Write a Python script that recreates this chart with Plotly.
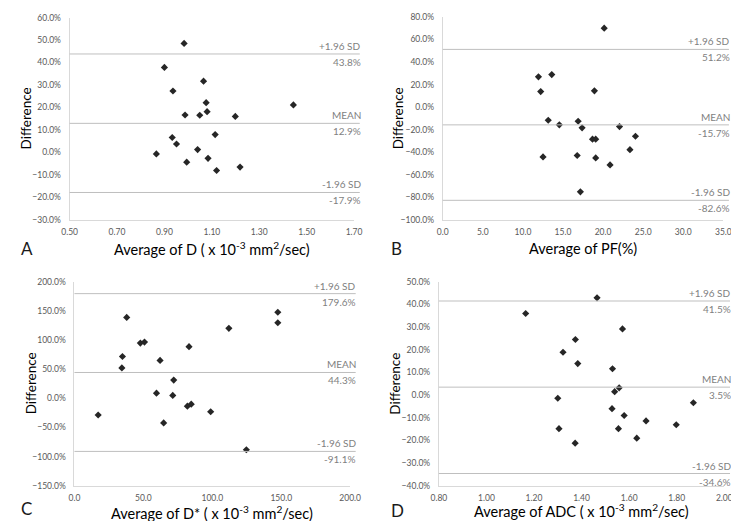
import plotly.graph_objects as go

# ---------------- data ----------------
a_x = [0.983, 0.900, 1.065, 0.936, 1.076, 1.444, 1.080, 0.987, 1.049, 1.199,
       1.114, 0.933, 0.951, 1.040, 0.866, 1.084, 0.994, 1.219, 1.120]
a_y = [48.5, 37.8, 31.7, 27.3, 22.1, 21.1, 18.1, 16.6, 16.5, 16.0,
       7.9, 6.6, 3.7, 1.2, -0.7, -2.7, -4.4, -6.6, -8.1]
a_lines = [43.8, 12.9, -17.9]

b_x = [20.14, 13.60, 11.94, 12.22, 18.92, 13.16, 16.89, 14.54, 17.38, 22.05,
       18.68, 19.08, 24.04, 23.35, 12.51, 16.77, 19.08, 20.87, 17.17]
b_y = [70.0, 28.9, 26.9, 13.8, 14.5, -11.6, -12.5, -15.7, -18.3, -17.2,
       -28.4, -28.4, -25.8, -37.7, -44.1, -42.9, -45.0, -51.2, -75.1]
b_lines = [51.2, -15.7, -82.6]

c_x = [147.5, 147.5, 37.9, 112.0, 47.8, 50.8, 83.1, 34.8, 62.1, 34.4,
       72.0, 59.5, 71.3, 84.7, 81.9, 17.2, 98.8, 64.7, 124.7]
c_y = [147.6, 129.6, 138.8, 120.1, 94.8, 96.5, 88.6, 71.8, 65.0, 52.1,
       31.3, 8.9, 5.0, -10.1, -13.4, -28.6, -23.0, -42.2, -88.2]
c_lines = [179.6, 44.3, -91.1]

d_x = [1.465, 1.165, 1.572, 1.374, 1.322, 1.384, 1.530, 1.558, 1.539, 1.300,
       1.870, 1.528, 1.579, 1.671, 1.798, 1.305, 1.555, 1.632, 1.373]
d_y = [42.9, 36.0, 29.2, 24.5, 18.9, 13.9, 11.6, 3.2, 1.5, -1.4,
       -3.4, -6.0, -9.0, -11.4, -13.1, -14.8, -14.8, -19.0, -21.2]
d_lines = [41.5, 3.5, -34.6]

line_names = ["+1.96 SD", "MEAN", "-1.96 SD"]
panel_letters = ["A", "B", "C", "D"]
x_titles = [
    "Average of D ( x 10<sup>-3</sup> mm<sup>2</sup>/sec)",
    "Average of PF(%)",
    "Average of D* ( x 10<sup>-3</sup> mm<sup>2</sup>/sec)",
    "Average of ADC ( x 10<sup>-3</sup> mm<sup>2</sup>/sec)",
]

W, H = 739, 521
FONT = "Lato, 'Open Sans', sans-serif"

panels = [
    dict(x=a_x, y=a_y, lines=a_lines, xr=[0.5, 1.7], xd=0.2, xf=".2f",
         yr=[-30, 60], yd=10, px=(55, 347), py=(4.7, 210.7),
         letter=(3, 240), title_y=240),
    dict(x=b_x, y=b_y, lines=b_lines, xr=[0, 35], xd=5, xf=".1f",
         yr=[-100, 80], yd=20, px=(438, 726), py=(4.0, 211.0),
         letter=(383, 240), title_y=240),
    dict(x=c_x, y=c_y, lines=c_lines, xr=[0, 200], xd=50, xf=".1f",
         yr=[-150, 200], yd=50, px=(60, 343), py=(274.0, 482.0),
         letter=(3, 505), title_y=509),
    dict(x=d_x, y=d_y, lines=d_lines, xr=[0.8, 2.0], xd=0.2, xf=".2f",
         yr=[-40, 50], yd=10, px=(434, 727), py=(274.0, 482.0),
         letter=(383, 507), title_y=507),
]

fig = go.Figure()
shapes = []
annotations = []

for i, p in enumerate(panels):
    n = "" if i == 0 else str(i + 1)
    xa, ya = "x" + n, "y" + n
    fig.add_trace(go.Scatter(
        x=p["x"], y=p["y"], mode="markers", xaxis=xa, yaxis=ya,
        marker=dict(symbol="diamond", size=5.5, color="#262626"),
        showlegend=False, hoverinfo="x+y"))
    x0 = p["px"][0] / W
    x1 = p["px"][1] / W
    y0 = 1 - p["py"][1] / H
    y1 = 1 - p["py"][0] / H
    axis_common = dict(showgrid=False, zeroline=False, showline=True,
                       linecolor="#d9d9d9", linewidth=1, ticks="",
                       tickfont=dict(family=FONT, size=8.5, color="#595959"))
    fig.layout["xaxis" + n] = dict(domain=[x0, x1], range=p["xr"], dtick=p["xd"],
                                   tick0=p["xr"][0], tickformat=p["xf"],
                                   anchor=ya, ticklabelstandoff=4, **axis_common)
    fig.layout["yaxis" + n] = dict(domain=[y0, y1], range=p["yr"], dtick=p["yd"],
                                   tick0=p["yr"][0], tickformat=".1f", ticksuffix="%",
                                   anchor=xa, ticklabelstandoff=6, **axis_common)
    xdom = xa + " domain"
    for j, v in enumerate(p["lines"]):
        shapes.append(dict(type="line", xref=xdom, yref=ya, x0=0, x1=1.02,
                           y0=v, y1=v, line=dict(color="#bfbfbf", width=1)))
        annotations.append(dict(xref=xdom, yref=ya, x=1.03, y=v,
                                text=line_names[j], showarrow=False,
                                xanchor="right", yanchor="bottom", yshift=0,
                                font=dict(family=FONT, size=10, color="#7f7f7f")))
        annotations.append(dict(xref=xdom, yref=ya, x=1.03, y=v,
                                text=f"{v:.1f}%", showarrow=False,
                                xanchor="right", yanchor="top", yshift=0,
                                font=dict(family=FONT, size=10, color="#7f7f7f")))
    # axis titles
    annotations.append(dict(xref="paper", yref="paper",
                            x=(p["px"][0] + p["px"][1]) / 2 / W,
                            y=1 - p["title_y"] / H, text=x_titles[i],
                            showarrow=False, xanchor="center", yanchor="middle",
                            font=dict(family=FONT, size=14.5, color="#000000")))
    annotations.append(dict(xref="paper", yref="paper",
                            x=(p["px"][0] - 45) / W,
                            y=1 - (p["py"][0] + p["py"][1]) / 2 / H,
                            text="Difference", textangle=-90, showarrow=False,
                            xanchor="center", yanchor="middle",
                            font=dict(family=FONT, size=13.5, color="#000000")))
    annotations.append(dict(xref="paper", yref="paper",
                            x=p["letter"][0] / W, y=1 - p["letter"][1] / H,
                            text=panel_letters[i], showarrow=False,
                            xanchor="left", yanchor="middle",
                            font=dict(family=FONT, size=17, color="#1a1a1a")))

fig.update_layout(width=W, height=H, margin=dict(l=0, r=0, t=0, b=0),
                  paper_bgcolor="white", plot_bgcolor="white",
                  shapes=shapes, annotations=annotations,
                  font=dict(family=FONT))
fig.write_html("out.html")
